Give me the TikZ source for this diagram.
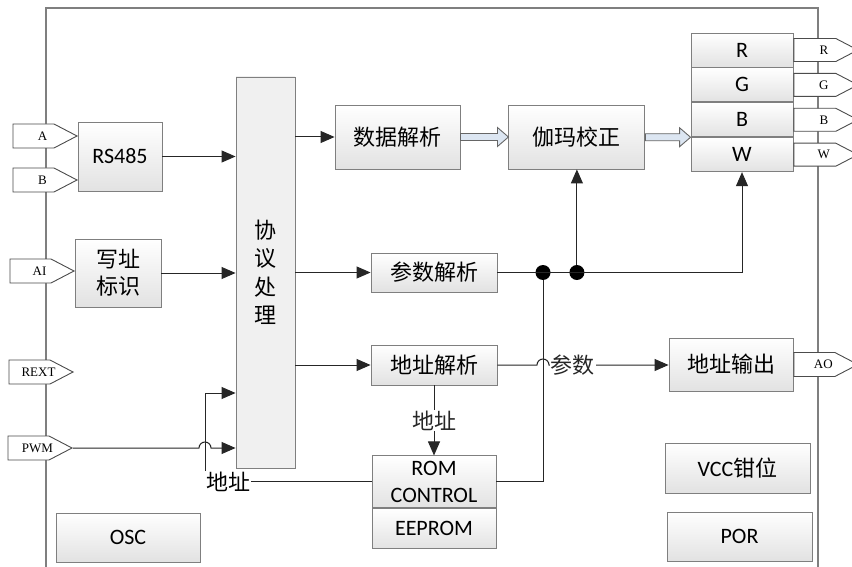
\documentclass[tikz,border=0pt]{standalone}
\usepackage{fontspec}
\setmainfont{Carlito}
\newfontfamily\cjk{Noto Sans CJK SC}
\newfontfamily\pinserif{Liberation Serif}
\usetikzlibrary{arrows.meta, positioning, calc, shapes.symbols}
\definecolor{boxline}{HTML}{7F7F7F}
\definecolor{boxfill}{HTML}{E2E2E2}
\definecolor{protofill}{HTML}{F0F0F0}
\definecolor{fatfill}{HTML}{DCE6F2}

\newcommand\fatarrow[2]{\draw[fat] ($(#1 |- #2)+(0,3.5)$) -- ($(#2)+(-11,3.5)$) -- ($(#2)+(-11,9.5)$) -- (#2) -- ($(#2)+(-11,-9.5)$) -- ($(#2)+(-11,-3.5)$) -- ($(#1 |- #2)+(0,-3.5)$) -- cycle;}
\newcommand\pinlab[1]{\hspace*{18pt}\makebox[0pt]{#1}}

\begin{document}
\begin{tikzpicture}[
  x=1pt, y=1pt,
  box/.style={draw=boxline, line width=0.9pt, top color=white, bottom color=boxfill, inner sep=0pt, align=center, font=\cjk\fontsize{22}{27}\selectfont},
  latbox/.style={box, font=\rmfamily\fontsize{22}{27}\selectfont},
  pin/.style={signal, signal to=east, signal pointer angle=55, draw=black!70, fill=white, line width=0.9pt, minimum width=64pt, minimum height=24pt, inner sep=0pt, font=\pinserif\fontsize{13}{13}\selectfont},
  wire/.style={line width=1pt, black!85},
  arrow/.style={wire, -{Triangle[length=14pt, width=12pt]}},
  dot/.style={circle, fill=black, inner sep=0pt, minimum size=15pt},
  tag/.style={fill=white, inner sep=1pt, font=\cjk\fontsize{22}{22}\selectfont},
  fat/.style={draw=black!60, fill=fatfill, line width=0.9pt, line join=miter}
]
\fill[white] (0,0) rectangle (852,-567);
\useasboundingbox (0,0) rectangle (852,-567);

% chip outline
\draw[boxline, line width=1.2pt] (46,-580) |- (818,-8) -- (818,-580);

% blocks
\node[latbox, minimum width=84pt, minimum height=69pt] (rs) at (120,-156.5) {RS485};
\node[box, minimum width=86pt, minimum height=68pt] (wa) at (118,-273) {写址\\标识};
\node[box, bottom color=protofill, top color=protofill, minimum width=59pt, minimum height=391pt, font=\cjk\fontsize{22}{28.5}\selectfont] (proto) at (265.5,-272.5) {协\\议\\处\\理};
\node[box, minimum width=125pt, minimum height=64pt] (data) at (397.5,-137) {数据解析};
\node[box, minimum width=136pt, minimum height=64pt, right=48pt of data] (gamma) {伽玛校正};
\node[latbox, minimum width=102pt, minimum height=34pt] (colR) at (742,-50) {R};
\node[latbox, minimum width=102pt, minimum height=34pt, below=0pt of colR] (colG) {G};
\node[latbox, minimum width=102pt, minimum height=34pt, below=0pt of colG] (colB) {B};
\node[latbox, minimum width=102pt, minimum height=34pt, below=0pt of colB] (colW) {W};
\node[box, minimum width=126pt, minimum height=39pt] (param) at (434,-272.5) {参数解析};
\node[box, minimum width=126pt, minimum height=40pt] (addr) at (434,-365) {地址解析};
\node[box, minimum width=124pt, minimum height=53pt] (out) at (731,-364.5) {地址输出};
\node[latbox, minimum width=124pt, minimum height=52pt, below=70pt of addr] (rom) {ROM\\CONTROL};
\node[latbox, minimum width=124pt, minimum height=40pt, below=0pt of rom] (eeprom) {EEPROM};
\node[latbox, minimum width=144pt, minimum height=49pt] (osc) at (128,-537.5) {OSC};
\node[box, minimum width=145pt, minimum height=50pt] (vcc) at (737.5,-468) {{\rmfamily VCC}钳位};
\node[latbox, minimum width=145pt, minimum height=49pt] (por) at (739.5,-536.5) {POR};

% pins
\node[pin, anchor=east] (pinA) at (78,-136) {\pinlab{A}};
\node[pin, anchor=east] (pinB) at (78,-180) {\pinlab{B}};
\node[pin, anchor=east] (pinAI) at (75,-271) {\pinlab{AI}};
\node[pin, anchor=east] (pinREXT) at (74,-372) {\pinlab{REXT}};
\node[pin, anchor=east] (pinPWM) at (73,-448) {\pinlab{PWM}};
\node[pin, minimum height=23pt, right=0pt of colR] (pinR) {\pinlab{R}};
\node[pin, minimum height=23pt, right=0pt of colG] (pinG) {\pinlab{G}};
\node[pin, minimum height=23pt, right=0pt of colB] (pinB2) {\pinlab{B}};
\node[pin, minimum height=23pt, right=0pt of colW] (pinW) {\pinlab{W}};
\node[pin, right=0pt of out] (pinAO) {\pinlab{AO}};

% connections
\draw[arrow] (rs.east) -- (rs.east -| proto.west);
\draw[arrow] (wa.east) -- (wa.east -| proto.west);
\draw[arrow] (proto.east |- data.west) -- (data.west);
\draw[arrow] (proto.east |- param.west) -- (param.west);
\draw[arrow] (proto.east |- addr.west) -- (addr.west);
\fatarrow{data.east}{gamma.west}
\fatarrow{gamma.east}{colW.north west}

\node[dot] (dotA) at (543,-272.5) {};
\node[dot] (dotB) at (gamma.south |- param.east) {};
\draw[arrow] (param.east) -| (colW.south);
\draw[arrow] (dotB) -- (gamma.south);
\draw[wire] (dotA) |- (rom.east);
\draw[arrow] (addr.east) -- ($(addr.east -| dotA)+(-6,0)$) arc[start angle=180, end angle=0, radius=6]
  node[tag, anchor=west] (ptag) {参数} -- (addr.east -| out.west);
\draw[arrow] (addr) -- node[tag] (atag) {地址} (rom);

\coordinate (fb) at (205,-393);
\draw[arrow] (rom.west) -| (fb) -- (fb -| proto.west);
\node[tag, anchor=west] (rtag) at (fb |- rom.west) {地址};
\draw[arrow] (pinPWM.east) -- ($(fb |- pinPWM.east)+(-6,0)$) arc[start angle=180, end angle=0, radius=6] -- (pinPWM.east -| proto.west);

\end{tikzpicture}
\end{document}
